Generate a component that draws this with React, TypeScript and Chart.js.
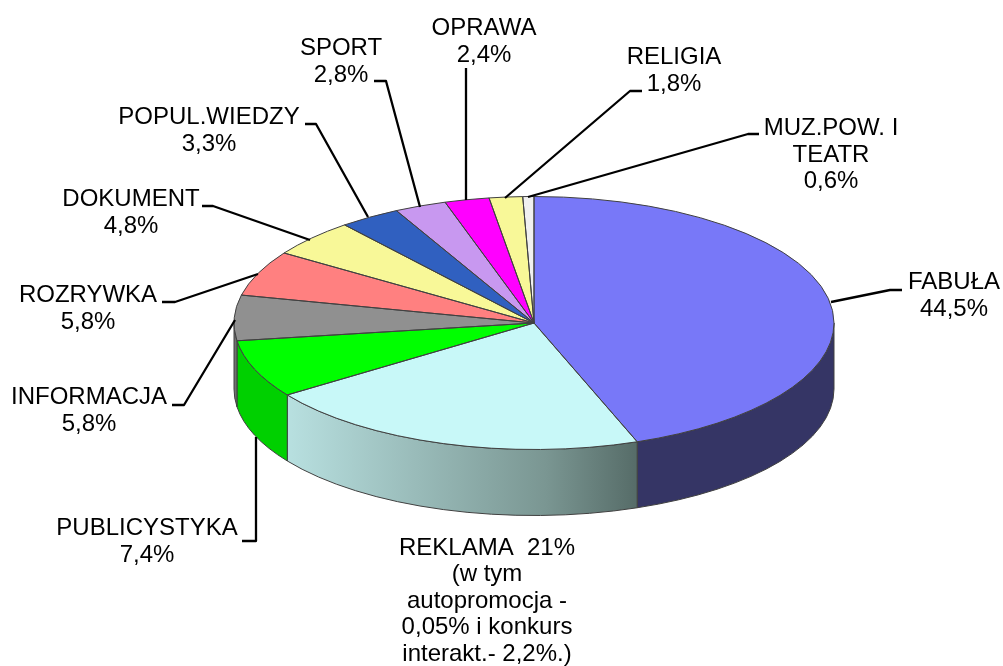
import React, { useEffect, useRef } from "react";
import { Chart, registerables } from "chart.js";

Chart.register(...registerables);

const categories = ["FABUŁA", "REKLAMA", "PUBLICYSTYKA", "INFORMACJA", "ROZRYWKA", "DOKUMENT", "POPUL.WIEDZY", "SPORT", "OPRAWA", "RELIGIA", "MUZ.POW.I TEATR"];
const values = [44.5, 21, 7.4, 5.8, 5.8, 4.8, 3.3, 2.8, 2.4, 1.8, 0.6];
const topColors = ["#7878f8", "#c8f8f8", "#00ff00", "#909090", "#ff8080", "#f8f898", "#3060c0", "#c898f0", "#ff00ff", "#f8f898", "#f0f0f0"];
const wallColors = ["#353565", "#b8e0e0", "#00d000", "#707070", "#c06060", "#c0c070", "#204890", "#9070b0", "#c000c0", "#c0c070", "#b0b0b0"];
const wallMidColors = ["#353565", "#7a9692", "#00d000", "#707070", "#c06060", "#c0c070", "#204890", "#9070b0", "#c000c0", "#c0c070", "#b0b0b0"];
const wallEndColors = ["#353565", "#566c68", "#00d000", "#707070", "#c06060", "#c0c070", "#204890", "#9070b0", "#c000c0", "#c0c070", "#b0b0b0"];
const labelLines = [
  ["FABUŁA", "44,5%"],
  ["REKLAMA  21%", "(w tym", "autopromocja -", "0,05% i konkurs", "interakt.- 2,2%.)"],
  ["PUBLICYSTYKA", "7,4%"],
  ["INFORMACJA", "5,8%"],
  ["ROZRYWKA", "5,8%"],
  ["DOKUMENT", "4,8%"],
  ["POPUL.WIEDZY", "3,3%"],
  ["SPORT", "2,8%"],
  ["OPRAWA", "2,4%"],
  ["RELIGIA", "1,8%"],
  ["MUZ.POW. I", "TEATR", "0,6%"],
];

// layout: label centre x / first line centre y
const labelPos = [[954, 282.5], [487, 548], [147, 528.5], [89, 397.5], [88, 295.5], [131, 199.5], [209, 117.5], [341, 48.5], [484, 28.5], [674, 57.5], [831, 128.5]];
const leaders: number[][][] = [
  [[831, 302], [890, 290], [902, 290]],
  [],
  [[242, 541], [256, 541], [256, 437]],
  [[172, 405], [184, 405], [235, 320]],
  [[162, 302], [175, 302], [258, 274]],
  [[202, 206], [213, 206], [310, 240]],
  [[305, 124], [316, 124], [368, 217]],
  [[374, 81], [386, 81], [420, 207]],
  [[466, 68], [466, 200]],
  [[642, 91], [630, 91], [505, 198]],
  [[759, 134], [748, 134], [528, 197]],
];

const CX = 534, CY = 323, RY = 126.5, DEPTH = 66;
const FONT = '24px "Liberation Sans", Arial, sans-serif';

const pie3d = {
  id: "pie3d",
  beforeDatasetsDraw(chart: any) {
    const ctx = chart.ctx;
    const arcs = chart.getDatasetMeta(0).data;
    arcs.forEach((arc: any, i: number) => {
      const s = Math.max(arc.startAngle, 0);
      const e = Math.min(arc.endAngle, Math.PI);
      if (e <= s) return;
      const rx = arc.outerRadius;
      const x0 = CX + Math.cos(e) * rx;
      const x1 = CX + Math.cos(s) * rx;
      const g = ctx.createLinearGradient(x0, 0, x1, 0);
      g.addColorStop(0, wallColors[i]);
      g.addColorStop(0.74, wallMidColors[i]);
      g.addColorStop(1, wallEndColors[i]);
      ctx.save();
      ctx.beginPath();
      ctx.ellipse(CX, CY, rx, RY, 0, s, e);
      ctx.ellipse(CX, CY + DEPTH, rx, RY, 0, e, s, true);
      ctx.closePath();
      ctx.fillStyle = g;
      ctx.fill();
      ctx.strokeStyle = "#404040";
      ctx.lineWidth = 1;
      ctx.stroke();
      ctx.restore();
    });
    ctx.save();
    ctx.translate(0, CY);
    ctx.scale(1, RY / arcs[0].outerRadius);
    ctx.translate(0, -CY);
  },
  afterDatasetsDraw(chart: any) {
    const ctx = chart.ctx;
    ctx.restore();
    const arcs = chart.getDatasetMeta(0).data;
    arcs.forEach((arc: any) => {
      ctx.save();
      ctx.beginPath();
      ctx.moveTo(CX, CY);
      ctx.ellipse(CX, CY, arc.outerRadius, RY, 0, arc.startAngle, arc.endAngle);
      ctx.closePath();
      ctx.strokeStyle = "#404040";
      ctx.lineWidth = 1;
      ctx.stroke();
      ctx.restore();
    });
    ctx.save();
    ctx.strokeStyle = "#000000";
    ctx.lineWidth = 2.3;
    ctx.lineJoin = "round";
    leaders.forEach((pts) => {
      if (!pts.length) return;
      ctx.beginPath();
      pts.forEach(([x, y], k) => (k ? ctx.lineTo(x, y) : ctx.moveTo(x, y)));
      ctx.stroke();
    });
    ctx.fillStyle = "#000000";
    ctx.font = FONT;
    ctx.textAlign = "center";
    ctx.textBaseline = "middle";
    labelLines.forEach((lines, i) => {
      lines.forEach((t, k) => ctx.fillText(t, labelPos[i][0], labelPos[i][1] + k * 26.5));
    });
    ctx.restore();
  },
};

export default function App() {
  const ref = useRef<HTMLCanvasElement>(null);
  useEffect(() => {
    const chart = new Chart(ref.current!, {
      type: "pie",
      data: {
        labels: categories,
        datasets: [{ data: values, backgroundColor: topColors, borderWidth: 0 }],
      },
      options: {
        animation: false,
        responsive: false,
        layout: { padding: { left: 234, right: 169, top: 23, bottom: 43 } },
        plugins: { legend: { display: false }, tooltip: { enabled: false } },
      },
      plugins: [pie3d],
    } as any);
    return () => chart.destroy();
  }, []);
  return (
    <div style={{ position: "absolute", left: 0, top: 0, width: 1003, height: 666, background: "#fff" }}>
      <canvas ref={ref} width={1003} height={666} style={{ display: "block" }} />
    </div>
  );
}
